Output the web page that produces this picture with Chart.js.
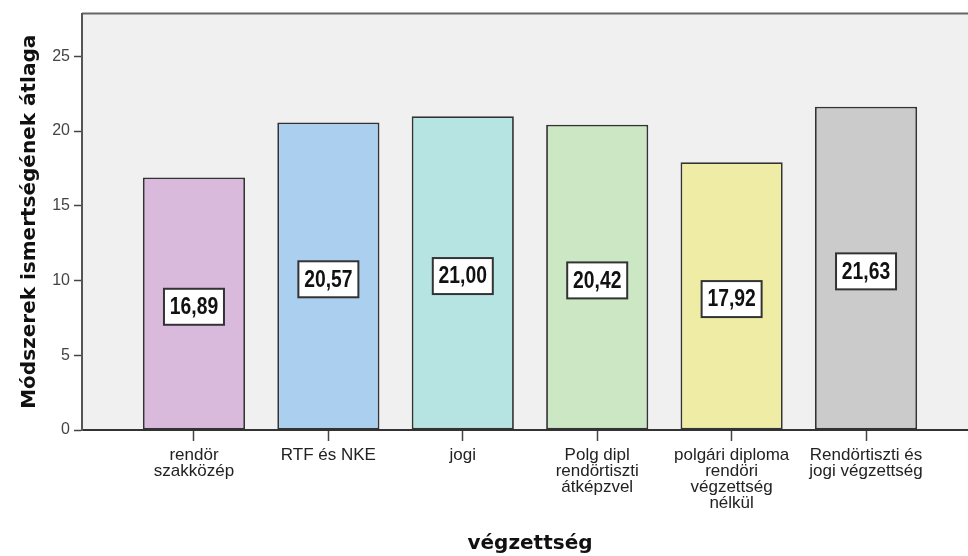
<!DOCTYPE html>
<html>
<head>
<meta charset="utf-8">
<script src="https://cdn.jsdelivr.net/npm/chart.js@4.4.1/dist/chart.umd.min.js"></script>
<style>
  html, body { margin: 0; padding: 0; background: #fff; overflow: hidden; }
  #wrap { width: 990px; height: 556px; position: relative; }
</style>
</head>
<body>
<div id="wrap"><canvas id="barChart"></canvas></div>
<script>
// data
const categories = [
  ['rendör', 'szakközép'],
  ['RTF és NKE'],
  ['jogi'],
  ['Polg dipl', 'rendörtiszti', 'átképzvel'],
  ['polgári diploma', 'rendöri', 'végzettség', 'nélkül'],
  ['Rendörtiszti és', 'jogi végzettség']
];
const means = [16.89, 20.57, 21.00, 20.42, 17.92, 21.63];
const yTicks = [0, 5, 10, 15, 20, 25];
const barColors = ['#d9badd', '#abcfee', '#b6e4e3', '#cbe7c3', '#efeda5', '#cbcbcb'];
const yTitle = 'Módszerek ismertségének átlaga';
const xTitle = 'végzettség';

// plot background + frame (top edge)
const frame = {
  id: 'frame',
  beforeDraw(chart) {
    const { ctx, chartArea: a } = chart;
    ctx.save();
    ctx.fillStyle = '#f0f0f0';
    ctx.fillRect(a.left, a.top, a.right - a.left, a.bottom - a.top);
    ctx.strokeStyle = '#666';
    ctx.lineWidth = 2;
    ctx.beginPath();
    ctx.moveTo(a.left, a.top);
    ctx.lineTo(a.right, a.top);
    ctx.lineTo(a.right, a.bottom);
    ctx.stroke();
    ctx.restore();
  }
};

// boxed value labels, halfway up each bar, comma decimals
const boxLabels = {
  id: 'boxLabels',
  afterDatasetsDraw(chart) {
    const { ctx } = chart;
    const yScale = chart.scales.y;
    const meta = chart.getDatasetMeta(0);
    ctx.save();
    ctx.font = 'bold 23px "Liberation Sans", Arial, sans-serif';
    ctx.textAlign = 'center';
    ctx.textBaseline = 'middle';
    meta.data.forEach((bar, i) => {
      const txt = means[i].toFixed(2).replace('.', ',');
      const cy = yScale.getPixelForValue(means[i] / 2) + 3;
      const w = 60, h = 36;
      ctx.fillStyle = '#fff';
      ctx.fillRect(bar.x - w / 2, cy - h / 2, w, h);
      ctx.strokeStyle = '#333';
      ctx.lineWidth = 2;
      ctx.strokeRect(bar.x - w / 2, cy - h / 2, w, h);
      ctx.fillStyle = '#111';
      // narrow the glyphs like the original condensed font
      ctx.save();
      ctx.translate(bar.x, cy + 1);
      ctx.scale(0.84, 1);
      ctx.fillText(txt, 0, 0);
      ctx.restore();
    });
    ctx.restore();
  }
};

new Chart(document.getElementById('barChart'), {
  type: 'bar',
  data: {
    datasets: [{
      data: means.map((v, i) => ({ x: i, y: v })),
      backgroundColor: barColors,
      borderColor: '#333',
      borderWidth: 1.8,
      borderSkipped: false,
      barPercentage: 0.76,
      categoryPercentage: 1
    }]
  },
  options: {
    responsive: true,
    maintainAspectRatio: false,
    animation: false,
    layout: { padding: { top: 11, right: 12, left: 0, bottom: 0 } },
    plugins: {
      legend: { display: false },
      tooltip: { enabled: false }
    },
    scales: {
      x: {
        type: 'linear',
        offset: false,
        min: -0.833,
        max: 5.833,
        afterFit(scale) { scale.height = 126; },
        afterBuildTicks(scale) {
          scale.ticks = categories.map((c, i) => ({ value: i }));
        },
        grid: {
          offset: false,
          drawOnChartArea: false,
          drawTicks: true,
          tickLength: 11,
          tickColor: '#444',
          tickWidth: 1.5
        },
        border: { display: true, color: '#333', width: 2 },
        ticks: {
          color: '#222',
          padding: 6,
          maxRotation: 0,
          autoSkip: false,
          callback: (v) => categories[v],
          font: { family: '"Liberation Sans", Arial, sans-serif', size: 17, lineHeight: '16px' }
        },
        title: {
          display: true,
          text: xTitle,
          color: '#111',
          padding: { top: 0, bottom: 0 },
          font: { family: '"DejaVu Sans", Verdana, sans-serif', size: 20, weight: 'bold' }
        }
      },
      y: {
        min: 0,
        max: 27.86,
        afterFit(scale) { scale.width = 82; },
        afterBuildTicks(scale) {
          scale.ticks = yTicks.map(v => ({ value: v }));
        },
        grid: {
          drawOnChartArea: false,
          drawTicks: true,
          tickLength: 8,
          tickColor: '#444',
          tickWidth: 1.5
        },
        border: { display: true, color: '#555', width: 2 },
        ticks: {
          color: '#444',
          padding: 4,
          font: { family: '"Liberation Sans", Arial, sans-serif', size: 16 }
        },
        title: {
          display: true,
          text: yTitle,
          color: '#111',
          padding: { top: 18, bottom: 0 },
          font: { family: '"DejaVu Sans", Verdana, sans-serif', size: 20, weight: 'bold' }
        }
      }
    }
  },
  plugins: [frame, boxLabels]
});
</script>
</body>
</html>
